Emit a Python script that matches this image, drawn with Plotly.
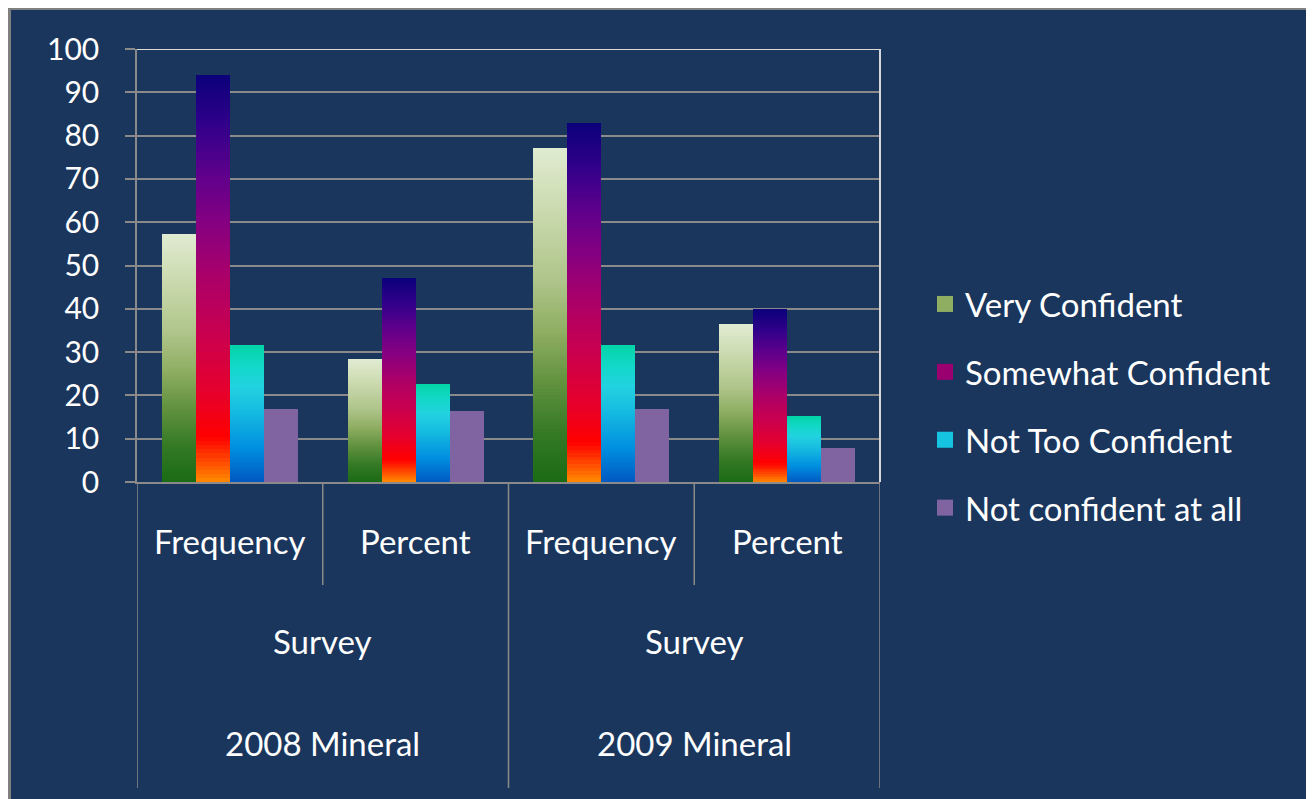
import plotly.graph_objects as go

# ---------------- data ----------------
inner_labels = ["Frequency", "Percent", "Frequency", "Percent"]
middle_labels = ["Survey", "Survey"]
outer_labels = ["2008 Mineral", "2009 Mineral"]

series_names = ["Very Confident", "Somewhat Confident", "Not Too Confident", "Not confident at all"]
very_confident = [57.2, 28.3, 77.1, 36.4]
somewhat_confident = [94.1, 47.1, 83.0, 40.0]
not_too_confident = [31.6, 22.6, 31.6, 15.2]
not_confident_at_all = [16.8, 16.4, 16.8, 7.9]
y_ticks = [0, 10, 20, 30, 40, 50, 60, 70, 80, 90, 100]

# ---------------- styles ----------------
NAVY = "#1a365d"
GRID = "#8a8a8a"
FONT = "Lato"
OFF = 8  # page body margin
W = 1314 - OFF
H = 799 - OFF
PL, PR, PT, PB = 137 - OFF, 880 - OFF, 49 - OFF, 482 - OFF  # plot area in figure pixels

gradients = [
    [(0, "#1a6a14"), (0.15, "#367a26"), (0.3, "#62923f"), (0.45, "#8fae62"),
     (0.6, "#aec48a"), (0.8, "#c9d9ac"), (1, "#e0ebd1")],
    [(0, "#ff8c00"), (0.05, "#ff4a00"), (0.11, "#ff0000"), (0.22, "#e6002c"),
     (0.35, "#cc004c"), (0.5, "#ac0068"), (0.62, "#8a007e"), (0.75, "#60008c"),
     (0.88, "#30008a"), (1, "#0a007a")],
    [(0, "#0058c0"), (0.25, "#008fe0"), (0.5, "#14b8e0"), (0.7, "#22d2e0"),
     (0.85, "#12d8c8"), (1, "#04d4a8")],
    None,
]
solid_colors = ["#8fae62", "#ac0068", "#14b8e0", "#8064a2"]
legend_colors = ["#8fae62", "#9a0070", "#14c4e0", "#8064a2"]


def hex2rgb(h):
    h = h.lstrip("#")
    return tuple(int(h[i:i + 2], 16) for i in (0, 2, 4))


def interp(stops, t):
    for (t0, c0), (t1, c1) in zip(stops[:-1], stops[1:]):
        if t0 <= t <= t1:
            f = 0 if t1 == t0 else (t - t0) / (t1 - t0)
            a, b = hex2rgb(c0), hex2rgb(c1)
            return "rgb(%d,%d,%d)" % tuple(round(a[i] + (b[i] - a[i]) * f) for i in range(3))
    return stops[-1][1]


all_series = [very_confident, somewhat_confident, not_too_confident, not_confident_at_all]
xpos = list(range(len(inner_labels)))
bar_w = 0.183
N = 100

fig = go.Figure()
for s, vals in enumerate(all_series):
    off = (s - 2) * bar_w
    stops = gradients[s]
    if stops is None:
        fig.add_trace(go.Bar(
            x=xpos, y=vals, width=bar_w, offset=off,
            marker=dict(color=solid_colors[s], line=dict(width=0)),
            showlegend=False, name=series_names[s],
        ))
    else:
        for k in range(N):
            col = interp(stops, (k + 0.5) / N)
            fig.add_trace(go.Bar(
                x=xpos, y=[v / N for v in vals], base=[v * k / N for v in vals],
                width=bar_w, offset=off,
                marker=dict(color=col, line=dict(width=0)),
                showlegend=False, name=series_names[s], hoverinfo="skip",
            ))
    # legend entry
    fig.add_trace(go.Scatter(
        x=[None], y=[None], mode="markers", name=series_names[s],
        legendgroup=series_names[s],
        marker=dict(symbol="square", size=17, color=legend_colors[s]),
    ))

pw = PR - PL
ph = PB - PT


def px2x(p):  # page pixel -> paper x
    return (p - OFF - PL) / pw


def px2y(p):  # page pixel -> paper y
    return (PB - (p - OFF)) / ph


shapes = []
# chart frame / background
shapes.append(dict(type="rect", xref="paper", yref="paper",
                   x0=px2x(9.5), x1=px2x(1312.5), y0=px2y(810), y1=px2y(8.5),
                   fillcolor=NAVY, line=dict(color="#808080", width=3), layer="below"))
# top gridline lighter and right border
shapes.append(dict(type="line", xref="paper", yref="y", x0=0, x1=1, y0=100, y1=100,
                   line=dict(color="#dcdcdc", width=2), layer="above"))
shapes.append(dict(type="line", xref="paper", yref="y", x0=1, x1=1, y0=0, y1=100,
                   line=dict(color="#d4d8dc", width=2), layer="above"))
# category dividers
short_y = px2y(585)
long_y = px2y(788)
for b in [-0.5, 0.5, 1.5, 2.5, 3.5]:
    y_end = long_y if b in (-0.5, 1.5, 3.5) else short_y
    shapes.append(dict(type="line", xref="x", yref="paper", x0=b, x1=b, y0=0, y1=y_end,
                       line=dict(color="#8a8a8a", width=1.5)))

LBL = 33
annotations = []
for i, lab in enumerate(inner_labels):
    annotations.append(dict(x=xpos[i], y=px2y(541), xref="x", yref="paper", text=lab,
                            showarrow=False, font=dict(family=FONT, size=LBL, color="white"),
                            xanchor="center", yanchor="middle"))
for g in range(2):
    cx = (xpos[2 * g] + xpos[2 * g + 1]) / 2
    annotations.append(dict(x=cx, y=px2y(641), xref="x", yref="paper", text=middle_labels[g],
                            showarrow=False, font=dict(family=FONT, size=LBL, color="white"),
                            xanchor="center", yanchor="middle"))
    annotations.append(dict(x=cx, y=px2y(743), xref="x", yref="paper", text=outer_labels[g],
                            showarrow=False, font=dict(family=FONT, size=LBL, color="white"),
                            xanchor="center", yanchor="middle"))

fig.update_layout(
    width=W, height=H,
    margin=dict(l=PL, r=W - PR, t=PT, b=H - PB, pad=0),
    paper_bgcolor="white",
    plot_bgcolor="rgba(0,0,0,0)",
    barmode="overlay",
    bargap=0,
    font=dict(family=FONT, color="white"),
    shapes=shapes,
    annotations=annotations,
    showlegend=True,
    legend=dict(x=px2x(925), y=px2y(406), xanchor="left", yanchor="middle",
                xref="paper", yref="paper",
                font=dict(family=FONT, size=33, color="white"),
                bgcolor="rgba(0,0,0,0)", tracegroupgap=22, itemsizing="trace"),
    xaxis=dict(range=[-0.5, 3.5], showticklabels=False, showgrid=False, zeroline=False,
               showline=True, linecolor="#8a8a8a", linewidth=1.5, ticks="", fixedrange=True),
    yaxis=dict(range=[0, 100], tickvals=y_ticks, ticks="outside", ticklen=10,
               tickcolor="#8a8a8a", tickwidth=1.5, showgrid=True, gridcolor=GRID, gridwidth=1.5,
               showline=True, linecolor="#8a8a8a", linewidth=1.5, zeroline=False,
               tickfont=dict(family=FONT, size=30, color="white"), ticklabelstandoff=20),
)

fig.write_html("out.html")
